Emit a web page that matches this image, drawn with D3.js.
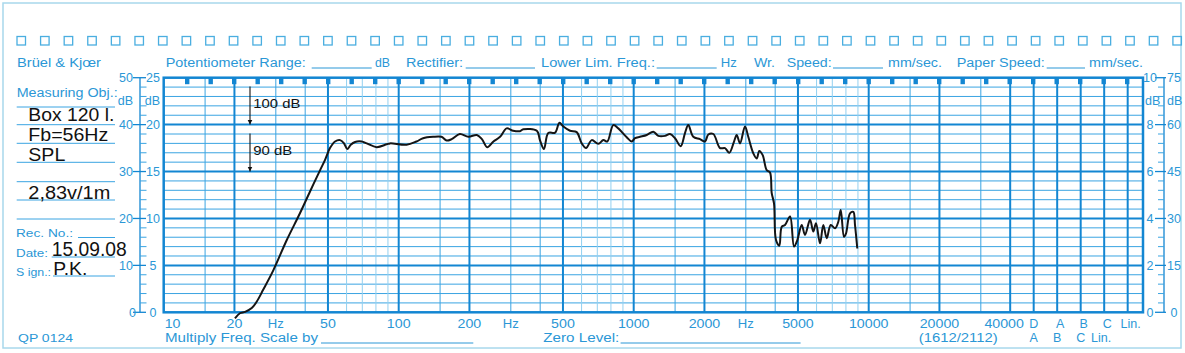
<!DOCTYPE html>
<html><head><meta charset="utf-8">
<script src="https://cdn.jsdelivr.net/npm/d3@7"></script>
<style>body{margin:0;background:#fff}svg{display:block}text{font-family:"Liberation Sans",Arial,Helvetica,sans-serif}</style>
</head><body><svg id="c" width="1185" height="353"></svg>
<script>
// ---- data ----
const freqs = [20.1,21.1,22.2,23.7,24.9,26.5,29.3,33.4,38.0,41.9,
46.3,48.6,51.0,53.6,56.3,58.5,60.4,62.5,65.2,69.6,
73.1,80.6,88.9,91.9,108,119,127,140,152,160,
168,182,198,215,226,238,253,270,288,307,
328,339,387,399,415,433,463,483,502,536,
572,601,627,663,707,743,772,819,860,934,
981,1013,1064,1136,1212,1273,1359,1427,1499,1585,
1653,1707,1793,1915,2011,2077,2182,2329,2446,2551,
2673,2744,2834,2976,3073,3228,3337,3424,3539,3681,
3802,3866,3954,4032,4165,4264,4404,4627,4812,4970,
5188,5358,5627,5812,5967,6206,6410,6628,6893,7190,
7425,7603,7852,8007,8327,8601,8745,8944];
const spl = [58.7,59.8,60.1,60.9,62.3,64.8,69.0,75.4,81.1,85.7,
90.3,92.5,95.0,96.4,96.7,96.0,94.8,95.7,96.3,96.4,
96.0,95.2,95.8,96.0,95.7,96.4,97.1,97.4,97.4,96.6,
96.9,98.0,97.4,97.8,96.9,95.2,96.4,97.4,99.2,98.7,
98.6,99.0,98.7,96.7,94.8,98.2,98.3,100.4,99.6,98.7,
98.4,96.0,95.0,96.7,95.9,96.7,96.4,99.9,99.2,97.3,
96.4,97.1,97.4,97.8,98.5,97.6,97.6,98.0,97.1,95.4,
98.2,99.9,97.4,96.9,96.4,97.9,98.0,95.0,95.0,94.0,
96.4,97.8,96.0,99.6,97.4,93.9,92.8,94.4,93.5,90.3,
89.8,85.4,83.2,75.4,74.2,78.2,78.6,80.4,74.0,75.4,
78.6,76.5,79.7,77.2,79.0,74.7,78.6,75.8,78.6,77.9,
79.3,81.8,76.1,76.8,81.1,81.4,78.6,73.6];
const freqTickValues = [10,20,50,100,200,500,1000,2000,5000,10000,20000,40000];
const freqTickLabels = ["10","20","50","100","200","500","1000","2000","5000","10000","20000","40000"];
const hzLabelFreqs = [30,300,3000];
const weightRow1 = ["D","A","B","C","Lin."];
const weightRow2 = ["A","B","C","Lin."];
const leftOuterLabels = ["0","10","20","30","40","50"];
const leftInnerLabels = ["0","5","10","15","20","25"];
const rightInnerLabels = ["0","2","4","6","8","10"];
const rightOuterLabels = ["0","15","30","45","60","75"];
const measuring = ["Box 120 l.","Fb=56Hz","SPL","","2,83v/1m"];

// ---- layout ----
const svg = d3.select("#c");
const L=163.7, R=1143, T=77.7, B=312.3;
const x = d3.scaleLog().domain([10,100000]).range([L, L+4*235]);
const y = d3.scaleLinear().domain([60,110]).range([B,T]);
const yu = d3.scaleLinear().domain([0,25]).range([B,T]);
const THICK="#1386d2", MED="#3aa4e2", LIGHT="#92d0f1", TXT="#2b97d6";

function txt(xp, yp, s, o={}) {
  const t = svg.append("text").attr("x",xp).attr("y",yp).text(s)
    .attr("font-size", o.size||12).attr("fill", o.fill||TXT)
    .attr("text-anchor", o.anchor||"start");
  if (o.w) t.attr("textLength", o.w).attr("lengthAdjust","spacingAndGlyphs");
  return t;
}
function line(x1,y1,x2,y2,c,w){svg.append("line").attr("x1",x1).attr("y1",y1).attr("x2",x2).attr("y2",y2).attr("stroke",c).attr("stroke-width",w);}

// outer border
svg.append("rect").attr("x",3).attr("y",3).attr("width",1178).attr("height",345)
  .attr("fill","none").attr("stroke","#a8d8ec").attr("stroke-width",1.5);

// sprocket squares
svg.append("g").selectAll("rect").data(d3.range(50)).join("rect")
  .attr("x",d=>17+23.59*d).attr("y",36.5).attr("width",8.5).attr("height",8.5)
  .attr("fill","none").attr("stroke","#4aaee0").attr("stroke-width",1.3);

// header
const hy=67;
txt(17,hy,"Brüel  &  Kjœr",{size:12.5,w:84});
txt(165.7,hy,"Potentiometer Range:",{w:140});
line(311.7,hy+1,371.7,hy+1,TXT,1);
txt(375,hy,"dB",{w:15});
txt(406,hy,"Rectifier:",{w:57});
line(465.7,hy+1,535,hy+1,TXT,1);
txt(541,hy,"Lower Lim. Freq.:",{w:114});
line(656.7,hy+1,716.7,hy+1,TXT,1);
txt(720.7,hy,"Hz",{w:16});
txt(754,hy,"Wr.",{w:21});
txt(786.7,hy,"Speed:",{w:45});
line(833,hy+1,883,hy+1,TXT,1);
txt(888,hy,"mm/sec.",{w:54});
txt(956.7,hy,"Paper Speed:",{w:88});
line(1046.7,hy+1,1085,hy+1,TXT,1);
txt(1089,hy,"mm/sec.",{w:54});

// left panel
txt(16.7,97,"Measuring Obj.:",{size:12.5,w:101});
[107,124.7,143.3,162.3,181.7,200,219].forEach(v=>line(16.7,v,115,v,MED,1));
const mw=[86,80,37,0,82], mb=[121,141,160.5,0,198.5];
measuring.forEach((s,i)=>{ if(s) txt(28.3,mb[i],s,{size:17.5,fill:"#111",w:mw[i]}); });
txt(16,237,"Rec.  No.:",{size:11.5,w:57});
line(78,237.5,115,237.5,MED,1);
txt(16,256.5,"Date:",{size:11.5,w:32});
line(51.7,257,115,257,MED,1);
txt(51.7,256,"15.09.08",{size:20,fill:"#111",w:75});
txt(16,275.5,"S ign.:",{size:11.5,w:35});
line(53,276,115,276,MED,1);
txt(53.3,275,"P.K.",{size:19,fill:"#111",w:34});
txt(18,341.7,"QP  0124",{size:11.5,w:55});

// horizontal grid
const units=d3.range(0,26);
svg.append("g").selectAll("line").data(units.filter(u=>u%5)).join("line")
  .attr("x1",L).attr("x2",R).attr("y1",d=>yu(d)).attr("y2",d=>yu(d))
  .attr("stroke",MED).attr("stroke-width",1);

// vertical grid
const vlines=[];
[10,100,1000].forEach(dec=>[1,1.5,2,3,4,5,6,7,8,9].forEach(m=>vlines.push({f:dec*m,m})));
[1,1.5,2,3,4].forEach(m=>vlines.push({f:10000*m,m}));
[1,2,3,4,5].forEach(k=>vlines.push({f:40000*Math.pow(10,k/10),m:1}));
svg.append("g").selectAll("line").data(vlines.filter(d=>d.f>10)).join("line")
  .attr("x1",d=>x(d.f)).attr("x2",d=>x(d.f)).attr("y1",T).attr("y2",B)
  .attr("stroke",d=>[1,2,5].includes(d.m)||d.f===40000?THICK:(d.m>=6?LIGHT:MED))
  .attr("stroke-width",d=>[1,2,5].includes(d.m)||d.f===40000?2:1);

// thick horizontal lines
svg.append("g").selectAll("line").data(units.filter(u=>u%5===0&&u>0&&u<25)).join("line")
  .attr("x1",L).attr("x2",R).attr("y1",d=>yu(d)).attr("y2",d=>yu(d))
  .attr("stroke",THICK).attr("stroke-width",2);

// frame
svg.append("rect").attr("x",L).attr("y",T).attr("width",R-L).attr("height",B-T)
  .attr("fill","none").attr("stroke",THICK).attr("stroke-width",2.5);

// top markers
svg.append("g").selectAll("rect").data(d3.range(1,42)).join("rect")
  .attr("x",k=>x(10*Math.pow(10,k/10))-2.2).attr("y",T).attr("width",4.4).attr("height",6.5)
  .attr("fill",THICK);

// left scales
line(140,T,140,B,THICK,1.3);
units.forEach(u=>{ if(u%5===0) line(133,yu(u),146,yu(u),THICK,1.3); else line(140,yu(u),146.5,yu(u),MED,1); });
leftOuterLabels.forEach((s,i)=>txt(i===0?136:133,yu(i*5)+4.5,s,{anchor:"end",size:12.5}));
leftInnerLabels.forEach((s,i)=>txt(153,yu(i*5)+4.5,s,{anchor:"middle",size:12.5}));
txt(133,105,"dB",{anchor:"end",size:12.5});
txt(160,105,"dB",{anchor:"end",size:12.5});

// right scales
line(1164,T,1164,B,THICK,1.3);
units.forEach(u=>{ if(u%5===0) line(1155,yu(u),1166,yu(u),THICK,1.3); else line(1158,yu(u),1164,yu(u),MED,1); });
rightInnerLabels.forEach((s,i)=>txt(1150,yu(i*5)+4.5,s,{anchor:"middle",size:12.5}));
rightOuterLabels.forEach((s,i)=>txt(1174,yu(i*5)+4.5,s,{anchor:"middle",size:12.5}));
txt(1145,105,"dB",{size:12.5});
txt(1167,105,"dB",{size:12.5});

// frequency labels
const fy=328;
freqTickValues.forEach((f,i)=>{
  const s=freqTickLabels[i];
  const off = i===0 ? 1 : (f===40000 ? -6 : 0);
  txt(x(f)+off, fy, s, {anchor:i===0?"start":"middle", size:12.5, w:s.length*7.9});
});
hzLabelFreqs.forEach(f=>txt(x(f),fy,"Hz",{anchor:"middle",size:12.5,w:16}));
weightRow1.forEach((s,i)=>txt(x(40000*Math.pow(10,(i+1)/10))+(i?3:0),fy,s,{anchor:"middle",size:12.5}));
weightRow2.forEach((s,i)=>txt(x(40000*Math.pow(10,(i+1)/10))-(i===3?3:0),342,s,{anchor:"middle",size:12.5}));
txt(165,342,"Multiply Freq. Scale by",{size:12.5,w:153});
line(321,343,473.3,343,TXT,1);
txt(543.3,342,"Zero Level:",{size:12.5,w:76});
line(620.6,343,800.6,343,TXT,1);
txt(918.7,342,"(1612/2112)",{size:12.5,w:79});

// reference arrows
svg.append("defs").append("marker").attr("id","ah").attr("viewBox","0 0 10 10")
  .attr("refX",10).attr("refY",5).attr("markerWidth",5).attr("markerHeight",8)
  .attr("orient","auto").attr("markerUnits","userSpaceOnUse")
  .append("path").attr("d","M0,0L10,5L0,10Z").attr("fill","#111");
[[100,110],[90,100]].forEach(([lv,top])=>{
  svg.append("line").attr("x1",250).attr("x2",250).attr("y1",y(top)+8.8).attr("y2",y(lv))
    .attr("stroke","#111").attr("stroke-width",1.1).attr("marker-end","url(#ah)");
});
txt(253.3,107.5,"100 dB",{size:13.5,fill:"#111",w:47});
txt(253.3,155,"90 dB",{size:13.5,fill:"#111",w:39});

// response curve
const pts=freqs.map((f,i)=>[f,spl[i]]);
svg.append("path").datum(pts)
  .attr("d",d3.line().x(d=>x(d[0])).y(d=>y(d[1])).curve(d3.curveCatmullRom.alpha(0.5)))
  .attr("fill","none").attr("stroke","#151515").attr("stroke-width",2).attr("stroke-linejoin","round");
</script></body></html>
